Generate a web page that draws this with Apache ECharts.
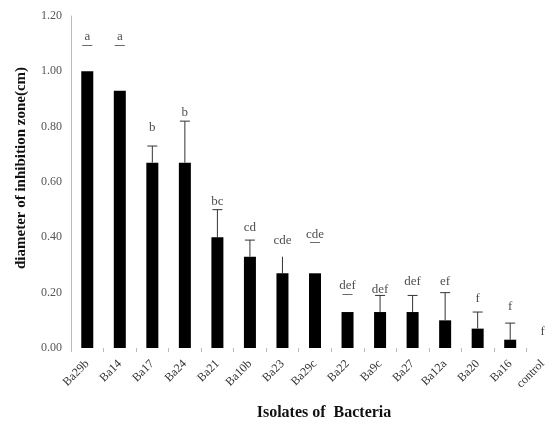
<!DOCTYPE html>
<html>
<head>
<meta charset="utf-8">
<script src="https://cdn.jsdelivr.net/npm/echarts@6/dist/echarts.min.js"></script>
<style>
  html, body { margin: 0; padding: 0; background: #fff; }
  #main { width: 557px; height: 425px; }
</style>
</head>
<body>
<div id="main"></div>
<script>
// 数据
var isolates = ['Ba29b', 'Ba14', 'Ba17', 'Ba24', 'Ba21', 'Ba10b', 'Ba23', 'Ba29c',
                'Ba22', 'Ba9c', 'Ba27', 'Ba12a', 'Ba20', 'Ba16', 'control'];
var meanValues = [1.00, 0.93, 0.67, 0.67, 0.40, 0.33, 0.27, 0.27, 0.13, 0.13, 0.13, 0.10, 0.07, 0.03, 0];
var errValues = [0, 0, 0.06, 0.15, 0.10, 0.06, 0.06, 0, 0, 0.06, 0.06, 0.10, 0.06, 0.06, 0];
var errCap = [1, 1, 1, 1, 1, 1, 0, 1, 1, 1, 1, 1, 1, 1, 1];
var letters = ['a', 'a', 'b', 'b', 'bc', 'cd', 'cde', 'cde', 'def', 'def', 'def', 'ef', 'f', 'f', 'f'];
var letterY = [1.113, 1.113, 0.795, 0.85, 0.53, 0.435, 0.39, 0.40, 0.213, 0.21, 0.24, 0.24, 0.18, 0.15, 0.06];
var underlined = [1, 1, 0, 0, 0, 0, 0, 1, 1, 0, 0, 0, 0, 0, 0];
var yTicks = [0, 0.2, 0.4, 0.6, 0.8, 1.0, 1.2];

var serif = '"Liberation Serif", "DejaVu Serif", serif';

var myChart = echarts.init(document.getElementById('main'));

option = {
    backgroundColor: '#fff',
    animation: false,
    grid: { left: 71, top: 16, width: 488, bottom: 77, outerBoundsMode: 'none', containLabel: false },
    xAxis: {
        type: 'category',
        data: isolates,
        axisLine: { show: false },
        axisTick: { show: true, length: 4, lineStyle: { color: '#bbb' } },
        axisLabel: {
            rotate: 45, margin: 14, interval: 0,
            fontFamily: serif, fontSize: 12, color: '#333'
        },
        name: 'Isolates of  Bacteria',
        nameLocation: 'middle',
        nameGap: 57,
        nameTextStyle: { fontFamily: serif, fontSize: 16, fontWeight: 'bold', color: '#111', padding: [0, 0, 0, 18] }
    },
    yAxis: {
        type: 'value',
        min: yTicks[0],
        max: yTicks[yTicks.length - 1],
        interval: 0.2,
        splitLine: { show: false },
        axisLine: { show: true, lineStyle: { color: '#bbb' } },
        axisTick: { show: false },
        axisLabel: {
            fontFamily: serif, fontSize: 12, color: '#555', margin: 9,
            formatter: function (v) { return v.toFixed(2); }
        },
        name: 'diameter of inhibition zone(cm)',
        nameLocation: 'middle',
        nameGap: 42,
        nameTextStyle: { fontFamily: serif, fontSize: 15, fontWeight: 'bold', color: '#111', padding: [0, 0, 0, 28] }
    },
    series: [
        {
            name: 'mean',
            type: 'bar',
            data: meanValues,
            barWidth: 12,
            itemStyle: { color: '#000' }
        },
        {
            name: 'err',
            type: 'custom',
            data: isolates.map(function (c, i) { return [i, meanValues[i], meanValues[i] + errValues[i], errCap[i]]; }),
            renderItem: function (params, api) {
                if (api.value(2) - api.value(1) <= 0) return;
                var lo = api.coord([api.value(0), api.value(1)]);
                var hi = api.coord([api.value(0), api.value(2)]);
                var children = [{
                    type: 'line',
                    shape: { x1: lo[0], y1: lo[1], x2: hi[0], y2: hi[1] },
                    style: { stroke: '#333', lineWidth: 1 }
                }];
                if (api.value(3)) {
                    children.push({
                        type: 'line',
                        shape: { x1: hi[0] - 5, y1: hi[1], x2: hi[0] + 5, y2: hi[1] },
                        style: { stroke: '#333', lineWidth: 1 }
                    });
                }
                return { type: 'group', children: children };
            },
            z: 3
        },
        {
            name: 'letters',
            type: 'scatter',
            symbol: 'circle',
            symbolSize: 2,
            itemStyle: { color: 'rgba(0,0,0,0)' },
            data: isolates.map(function (c, i) { return [i, letterY[i]]; }),
            label: {
                show: true,
                position: 'inside',
                formatter: function (p) {
                    var i = p.dataIndex;
                    return underlined[i] ? '{t|' + letters[i] + '}\n{u|—}' : '{t|' + letters[i] + '}';
                },
                rich: {
                    t: { fontFamily: serif, fontSize: 13, color: '#222', lineHeight: 11 },
                    u: { fontFamily: serif, fontSize: 10, fontWeight: 'bold', color: '#000', lineHeight: 6 }
                }
            },
            z: 4
        }
    ]
};

myChart.setOption(option, true);
</script>
</body>
</html>
